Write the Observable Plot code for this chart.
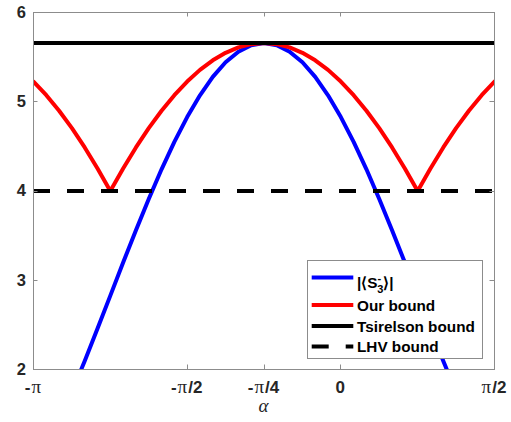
<!DOCTYPE html>
<html>
<head>
<meta charset="utf-8">
<script src="https://cdn.jsdelivr.net/npm/d3@7"></script>
<script src="https://cdn.jsdelivr.net/npm/@observablehq/plot@0.6"></script>
<style>
  html, body { margin: 0; padding: 0; background: #fff; }
  #chart { width: 511px; height: 422px; }
</style>
</head>
<body>
<div id="chart"></div>
<script>
// alpha sampled in steps of pi/24, from -pi to pi/2 (values in units of pi/24)
const alphaSteps = [-24,-23,-22,-21,-20,-19,-18,-17,-16,-15,-14,-13,-12,-11,-10,-9,-8,-7,-6,-5,-4,-3,-2,-1,0,1,2,3,4,5,6,7,8,9,10,11,12];
// |<S3->| (blue)
const s3Values = [0.828,1.107,1.414,1.746,2.096,2.459,2.828,3.198,3.561,3.911,4.243,4.550,4.828,5.072,5.278,5.442,5.561,5.633,5.657,5.633,5.561,5.442,5.278,5.072,4.828,4.550,4.243,3.911,3.561,3.198,2.828,2.459,2.096,1.746,1.414,1.107,0.828];
// Our bound (red)
const ourBound = [5.226,5.074,4.899,4.704,4.488,4.253,4.000,4.253,4.488,4.704,4.899,5.074,5.226,5.357,5.464,5.548,5.609,5.645,5.657,5.645,5.609,5.548,5.464,5.357,5.226,5.074,4.899,4.704,4.488,4.253,4.000,4.253,4.488,4.704,4.899,5.074,5.226];
const tsirelsonBound = [5.657];
const lhvBound = [4];
// axis ticks
const xTickSteps = [-24, -12, -6, 0, 12]; // units of pi/24
const xTickLabels = [["-", "\u03c0", ""], ["-", "\u03c0", "/2"], ["-", "\u03c0", "/4"], ["0", "", ""], ["", "\u03c0", "/2"]];
const yTicks = [2, 3, 4, 5, 6];
const legendLabels = ["S3", "Our bound", "Tsirelson bound", "LHV bound"];

const toRad = s => s * Math.PI / 24;
const data = alphaSteps.map((s, i) => ({alpha: toRad(s), s3: s3Values[i], ours: ourBound[i]}));

const sans = "Liberation Sans, Arial, Helvetica, sans-serif";
const serif = "Liberation Serif, Times New Roman, serif";

const plot = Plot.plot({
  width: 511,
  height: 422,
  marginLeft: 33,
  marginRight: 17,
  marginTop: 12,
  marginBottom: 53,
  style: {background: "white", fontFamily: sans, overflow: "visible"},
  x: {domain: [-Math.PI, Math.PI / 2], axis: null},
  y: {domain: [2, 6], axis: null},
  marks: [
    Plot.line(data, {x: "alpha", y: "s3", stroke: "#0000ff", strokeWidth: 4, clip: true}),
    Plot.line(data, {x: "alpha", y: "ours", stroke: "#ff0000", strokeWidth: 4, clip: true}),
    Plot.ruleY(tsirelsonBound, {stroke: "#000", strokeWidth: 4}),
    Plot.ruleY(lhvBound, {stroke: "#000", strokeWidth: 4, strokeDasharray: "17,17"}),
    Plot.frame({stroke: "#8c8c8c", strokeWidth: 1})
  ]
});

document.getElementById("chart").appendChild(plot);

const svg = d3.select(plot);
const xs = plot.scale("x");
const ys = plot.scale("y");
const x0 = xs.range[0], x1 = xs.range[1];
const yb = ys.range[0], yt = ys.range[1];
const tl = 4.5;
const axisColor = "#8c8c8c";
const g = svg.append("g").attr("stroke", axisColor).attr("stroke-width", 1);
xTickSteps.forEach(s => {
  const px = Math.round(xs.apply(toRad(s))) + 0.5;
  g.append("line").attr("x1", px).attr("x2", px).attr("y1", yb).attr("y2", yb - tl);
  g.append("line").attr("x1", px).attr("x2", px).attr("y1", yt).attr("y2", yt + tl);
});
yTicks.forEach(v => {
  const py = Math.round(ys.apply(v)) + 0.5;
  g.append("line").attr("x1", x0).attr("x2", x0 + tl).attr("y1", py).attr("y2", py);
  g.append("line").attr("x1", x1).attr("x2", x1 - tl).attr("y1", py).attr("y2", py);
});

// y tick labels
yTicks.forEach(v => {
  svg.append("text")
    .attr("x", x0 - 7)
    .attr("y", ys.apply(v) + 5.8)
    .attr("text-anchor", "end")
    .attr("fill", "#262626")
    .attr("font-size", 16.5)
    .attr("font-family", sans)
    .attr("font-weight", "bold")
    .text(String(v));
});

// x tick labels
xTickSteps.forEach((s, i) => {
  const [a, p, b] = xTickLabels[i];
  const t = svg.append("text")
    .attr("x", xs.apply(toRad(s)))
    .attr("y", 393)
    .attr("text-anchor", "middle")
    .attr("fill", "#262626")
    .attr("font-size", 17)
    .attr("font-family", sans)
    .attr("font-weight", "bold");
  if (a) t.append("tspan").text(a);
  if (p) t.append("tspan").attr("font-family", serif).attr("font-weight", "normal").attr("font-size", 19).attr("dx", a ? 1 : 0).text(p);
  if (b) t.append("tspan").attr("dx", 1).text(b);
});

// x axis label
svg.append("text")
  .attr("x", (x0 + x1) / 2)
  .attr("y", 412)
  .attr("text-anchor", "middle")
  .attr("fill", "#262626")
  .attr("font-size", 19)
  .attr("font-family", serif)
  .attr("font-style", "italic")
  .text("\u03b1");

// legend
const lg = svg.append("g");
lg.append("rect").attr("x", 307.5).attr("y", 260.5).attr("width", 175).attr("height", 98)
  .attr("fill", "white").attr("stroke", axisColor).attr("stroke-width", 1);
const rows = [
  {y: 277.5, color: "#0000ff", dash: null, baseline: 288},
  {y: 305, color: "#ff0000", dash: null, baseline: 310.5},
  {y: 326, color: "#000", dash: null, baseline: 331.5},
  {y: 346.5, color: "#000", dash: "17,17", baseline: 352}
];
rows.forEach((r, i) => {
  lg.append("line").attr("x1", 311.7).attr("x2", 353.3).attr("y1", r.y).attr("y2", r.y)
    .attr("stroke", r.color).attr("stroke-width", 4).attr("stroke-dasharray", r.dash);
  const t = lg.append("text").attr("x", 357).attr("y", r.baseline)
    .attr("text-anchor", "start")
    .attr("font-family", sans).attr("font-weight", "bold").attr("font-size", 15.3).attr("fill", "#000");
  if (i === 0) {
    t.append("tspan").text("|\u27e8S");
    t.append("tspan").attr("font-size", 11).attr("dy", -6).text("-");
    t.append("tspan").attr("font-size", 11).attr("dx", -4).attr("dy", 11).text("3");
    t.append("tspan").attr("dy", -5).text("\u27e9|");
  } else {
    t.text(legendLabels[i]);
  }
});
</script>
</body>
</html>
